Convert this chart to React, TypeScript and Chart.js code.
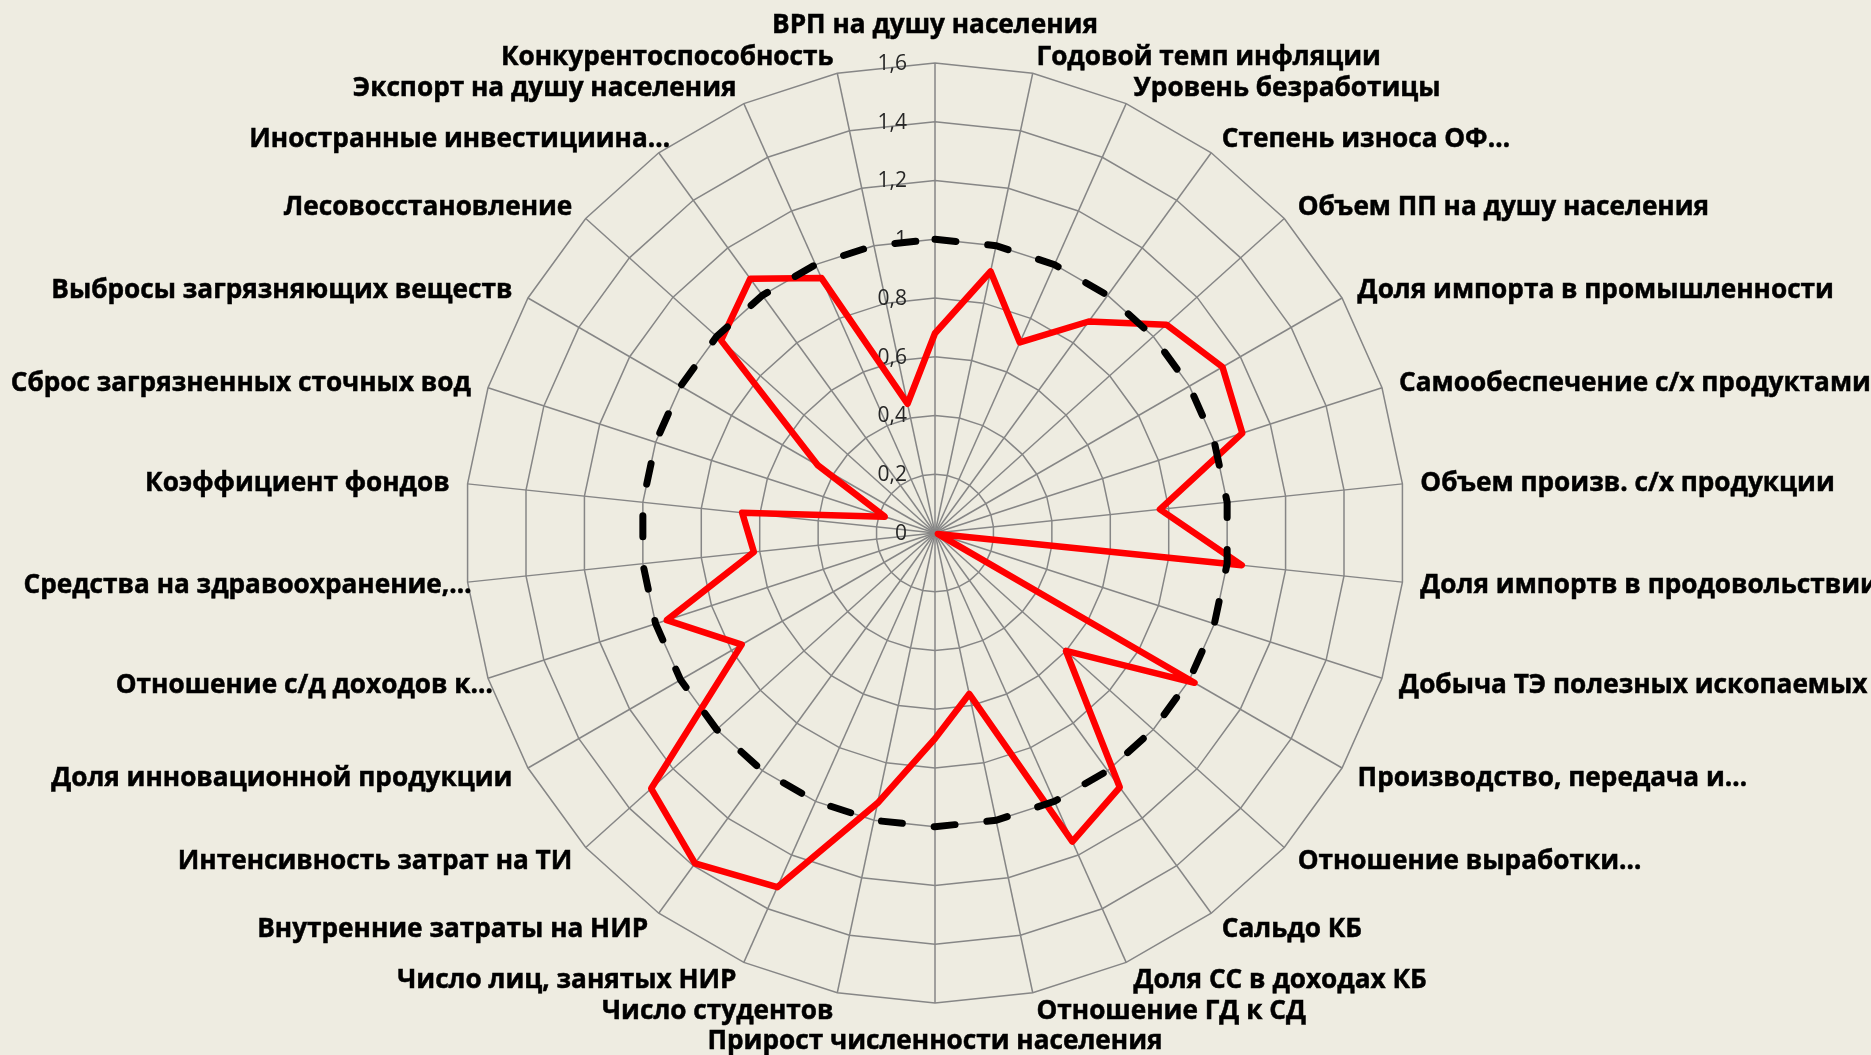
import React, { useEffect, useRef } from 'react';
import { Chart, registerables } from 'chart.js';

Chart.register(...registerables);

const categories: string[] = [
  'ВРП на душу населения',
  'Годовой темп инфляции',
  'Уровень безработицы',
  'Степень износа ОФ…',
  'Объем ПП на душу населения',
  'Доля импорта в промышленности',
  'Самообеспечение с/х продуктами',
  'Объем произв. с/х продукции',
  'Доля импортв в продовольствии',
  'Добыча ТЭ полезных ископаемых',
  'Производство, передача и…',
  'Отношение выработки…',
  'Сальдо КБ',
  'Доля СС в доходах КБ',
  'Отношение ГД к СД',
  'Прирост численности населения',
  'Число студентов',
  'Число лиц, занятых НИР',
  'Внутренние затраты на НИР',
  'Интенсивность затрат на ТИ',
  'Доля инновационной продукции',
  'Отношение с/д доходов к…',
  'Средства на здравоохранение,…',
  'Коэффициент фондов',
  'Сброс загрязненных сточных вод',
  'Выбросы загрязняющих веществ',
  'Лесовосстановление',
  'Иностранные инвестициина…',
  'Экспорт на душу населения',
  'Конкурентоспособность',
];

const regionValues: number[] = [
  0.68, 0.91, 0.71, 0.89, 1.06, 1.13, 1.1, 0.77, 1.05, 0.01,
  1.02, 0.6, 1.07, 1.15, 0.56, 0.7, 0.94, 1.32, 1.39, 1.3,
  0.76, 0.96, 0.62, 0.66, 0.18, 0.46, 0.98, 1.07, 0.95, 0.45,
];

const normValues: number[] = [
  1, 1, 1, 1, 1, 1, 1, 1, 1, 1,
  1, 1, 1, 1, 1, 1, 1, 1, 1, 1,
  1, 1, 1, 1, 1, 1, 1, 1, 1, 1,
];

const tickValues: number[] = [0, 0.2, 0.4, 0.6, 0.8, 1, 1.2, 1.4, 1.6];
const tickLabels: string[] = ['0', '0,2', '0,4', '0,6', '0,8', '1', '1,2', '1,4', '1,6'];

const LABEL_FONT = 'bold 26.2px "Open Sans"';
const TICK_FONT = '21px "Open Sans"';

const labelPlugin = {
  id: 'excelLabels',
  beforeDatasetsDraw(chart: any) {
    const scale = chart.scales.r;
    const ctx = chart.ctx as CanvasRenderingContext2D;
    ctx.save();
    ctx.font = TICK_FONT;
    ctx.fillStyle = '#262626';
    ctx.textAlign = 'right';
    ctx.textBaseline = 'middle';
    tickValues.forEach((v, i) => {
      const d = scale.getDistanceFromCenterForValue(v);
      ctx.fillText(tickLabels[i], scale.xCenter - 28, scale.yCenter - d + 1);
    });
    ctx.restore();
  },
  afterDraw(chart: any) {
    const scale = chart.scales.r;
    const ctx = chart.ctx as CanvasRenderingContext2D;
    const labels: string[] = chart.data.labels;
    const n = labels.length;
    ctx.save();
    ctx.font = LABEL_FONT;
    ctx.fillStyle = '#000000';
    ctx.strokeStyle = '#000000';
    ctx.lineWidth = 0.5;
    ctx.textBaseline = 'alphabetic';
    labels.forEach((text, i) => {
      const deg = (i * 360) / n;
      const p = scale.getPointPosition(i, scale.drawingArea + 18);
      let x = p.x;
      let y: number;
      if (i === 0) {
        ctx.textAlign = 'center';
        y = p.y - 12;
      } else if (Math.abs(deg - 180) < 0.01) {
        ctx.textAlign = 'center';
        y = p.y + 28;
      } else {
        y = p.y + 9;
        if (deg < 180) {
          ctx.textAlign = 'left';
        } else {
          ctx.textAlign = 'right';
          if (text.endsWith('…')) x += 22;
        }
      }
      ctx.fillText(text, x, y);
      ctx.strokeText(text, x, y);
    });
    ctx.restore();
  },
};

export default function App() {
  const canvasRef = useRef<HTMLCanvasElement | null>(null);

  useEffect(() => {
    let chart: Chart | null = null;
    let cancelled = false;
    const make = () => {
      if (cancelled || !canvasRef.current) return;
      chart = new Chart(canvasRef.current, {
        type: 'radar',
        data: {
          labels: categories,
          datasets: [
            {
              label: 'Норма',
              data: normValues,
              borderColor: '#000000',
              borderWidth: 7,
              borderDash: [21, 32],
              borderCapStyle: 'round',
              pointRadius: 0,
              fill: false,
              tension: 0,
            },
            {
              label: 'Регион',
              data: regionValues,
              borderColor: '#FF0000',
              borderWidth: 6.5,
              borderJoinStyle: 'round',
              pointRadius: 0,
              fill: false,
              tension: 0,
            },
          ],
        },
        options: {
          responsive: false,
          animation: false,
          devicePixelRatio: 1,
          layout: { padding: { left: 465, right: 466, top: 63, bottom: 52 } },
          plugins: {
            legend: { display: false },
            tooltip: { enabled: false },
          },
          scales: {
            r: {
              min: 0,
              max: 1.6,
              startAngle: 0,
              ticks: { display: false, stepSize: 0.2 },
              grid: { color: '#868686', lineWidth: 1.5, circular: false },
              angleLines: { color: '#868686', lineWidth: 1.5 },
              pointLabels: { display: false },
            },
          },
        } as any,
        plugins: [labelPlugin],
      });
    };
    const fontsApi = (document as any).fonts;
    if (fontsApi && fontsApi.load) {
      Promise.all([fontsApi.load(LABEL_FONT), fontsApi.load(TICK_FONT)])
        .catch(() => null)
        .then(make);
    } else {
      make();
    }
    return () => {
      cancelled = true;
      if (chart) chart.destroy();
    };
  }, []);

  return (
    <div
      style={{
        position: 'fixed',
        left: 0,
        top: 0,
        width: 1871,
        height: 1055,
        background: '#EEECE1',
        overflow: 'hidden',
      }}
    >
      <canvas ref={canvasRef} width={1871} height={1055} style={{ display: 'block' }} />
    </div>
  );
}
